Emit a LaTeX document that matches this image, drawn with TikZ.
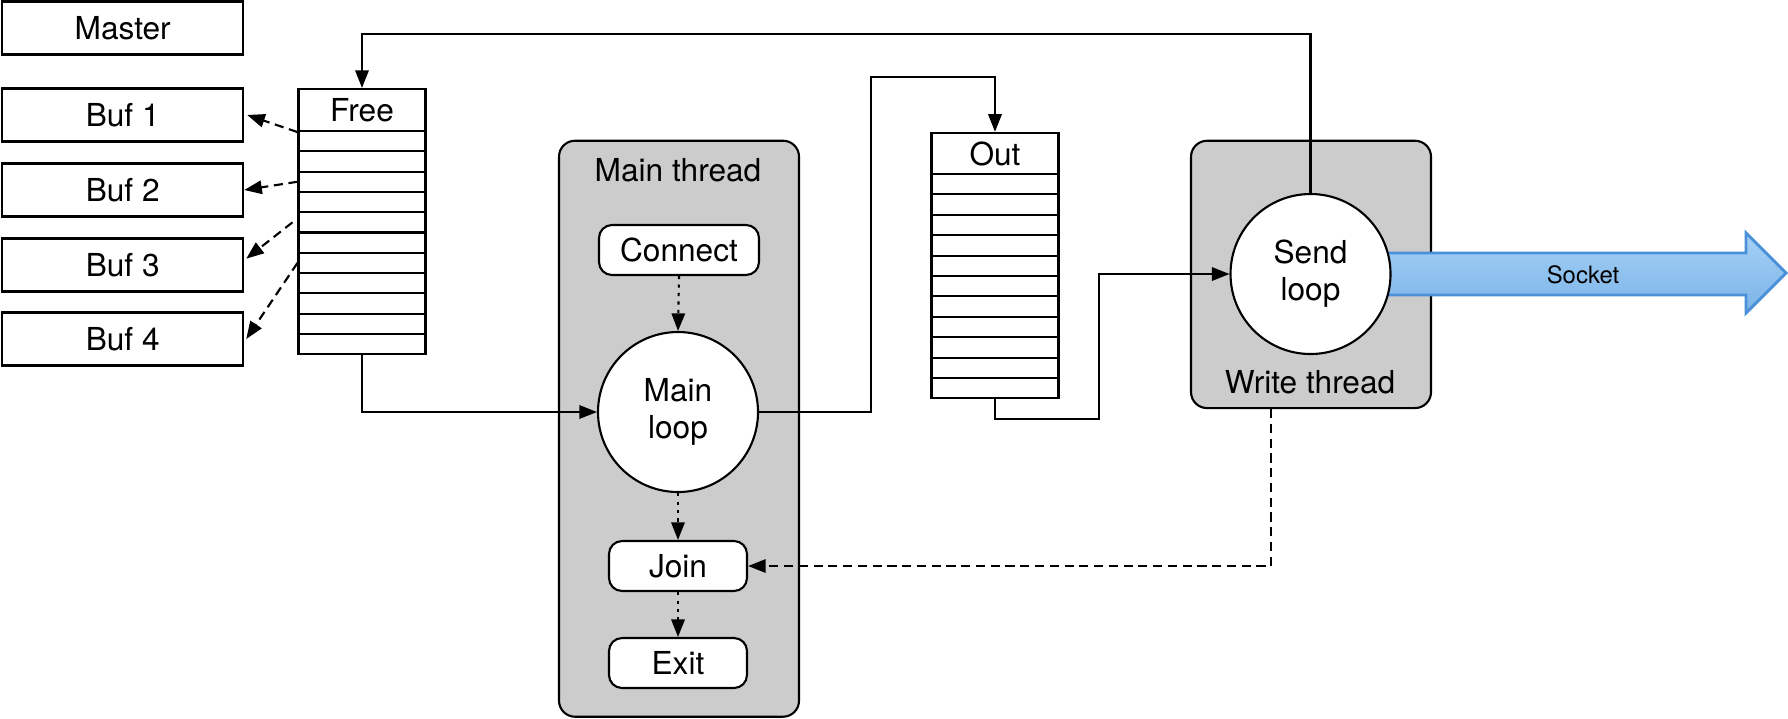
\documentclass[tikz,border=0pt]{standalone}
\usepackage{fontspec}
\setmainfont{TeX Gyre Heros}
\usetikzlibrary{positioning,arrows.meta}
\definecolor{threadgray}{HTML}{CCCCCC}
\definecolor{socketline}{HTML}{4A90D9}
\definecolor{sockettop}{HTML}{A6D1F6}
\definecolor{socketbot}{HTML}{7AB3E8}
\tikzset{
  flowarrow/.style={-{Triangle[length=5pt,width=3.8pt]}, line width=0.6pt},
  dasharrow/.style={flowarrow, dash pattern=on 2.6pt off 1.6pt},
  dotarrow/.style={flowarrow, dash pattern=on 0.9pt off 1.5pt},
  bufbox/.style={draw, line width=0.6pt, minimum width=2.41cm, minimum height=0.53cm, inner sep=0pt},
  queuehead/.style={draw, line width=0.6pt, minimum width=1.27cm, minimum height=0.42cm, inner sep=0pt},
  queuerow/.style={draw, line width=0.6pt, minimum width=1.27cm, minimum height=0.203cm, inner sep=0pt},
  threadbox/.style={draw, line width=0.6pt, rounded corners=0.16cm, fill=threadgray, minimum width=2.4cm, inner sep=0pt},
  loopnode/.style={draw, circle, line width=0.6pt, fill=white, minimum size=1.6cm, inner sep=0pt, align=center},
  stepbox/.style={draw, line width=0.6pt, rounded corners=0.13cm, fill=white, minimum height=0.5cm, inner sep=0pt}
}

\begin{document}
\begin{tikzpicture}[every node/.style={font=\fontsize{9}{10.5}\selectfont}]
  \useasboundingbox (0,0) rectangle (17.88,-7.18);

  % buffers
  \node[bufbox] (master) at (1.227,-0.28) {Master};
  \node[bufbox] (buf1) at (1.227,-1.15) {Buf 1};
  \node[bufbox] (buf2) at (1.227,-1.90) {Buf 2};
  \node[bufbox] (buf3) at (1.227,-2.65) {Buf 3};
  \node[bufbox] (buf4) at (1.227,-3.39) {Buf 4};

  % queues
  \node[queuehead] (freehead) at (3.62,-1.10) {Free};
  \foreach \i in {1,...,11}
    \node[queuerow] (free\i) at (3.62,{-1.31-0.203*(\i-0.5)}) {};
  \node[queuehead, minimum height=0.413cm] (outhead) at (9.95,-1.535) {Out};
  \foreach \i in {1,...,11}
    \node[queuerow, minimum height=0.204cm] (out\i) at (9.95,{-1.74-0.204*(\i-0.5)}) {};

  % main thread
  \node[threadbox, minimum height=5.76cm] (mainthread) at (6.79,-4.287) {};
  \node (mainlabel) at (6.78,-1.70) {Main thread};
  \node[stepbox, minimum width=1.60cm] (connect) at (6.79,-2.50) {Connect};
  \node[loopnode] (mainloop) at (6.78,-4.12) {Main\\loop};
  \node[stepbox, minimum width=1.38cm] (join) at (6.78,-5.66) {Join};
  \node[stepbox, minimum width=1.38cm] (exit) at (6.78,-6.63) {Exit};

  % write thread
  \node[threadbox, minimum height=2.673cm] (writethread) at (13.11,-2.744) {};
  \node (writelabel) at (13.10,-3.82) {Write thread};
  \coordinate (sendc) at (13.105,-2.74);
  \draw[socketline, line width=0.8pt, top color=sockettop, bottom color=socketbot]
    ([yshift=0.21cm]sendc) -- (17.46,-2.53) -- (17.46,-2.33) -- (17.86,-2.73)
    -- (17.46,-3.13) -- (17.46,-2.95) -- ([yshift=-0.21cm]sendc) -- cycle;
  \node[font=\fontsize{6.8}{8}\selectfont] (socket) at (15.83,-2.75) {Socket};
  \node[loopnode] (send) at (sendc) {Send\\loop};

  % connectors
  \coordinate (topline) at (0,-0.343);
  \coordinate (outbend) at (8.71,-0.767);
  \coordinate (sendbend) at (10.99,-4.19);
  \draw[flowarrow] (send.north) -- (send.north |- topline) -| (freehead.north);
  \draw[flowarrow] (free11.south) |- (mainloop.west);
  \draw[flowarrow] (mainloop.east) -| (outbend) -| (outhead.north);
  \draw[flowarrow] (out11.south) |- (sendbend) |- (send.west);
  \draw[dasharrow] (freehead.south west) -- ([xshift=0.03cm]buf1.east);
  \draw[dasharrow] (free3.west) -- (buf2.east);
  \draw[dasharrow] ([xshift=-0.05cm]free5.west) -- ([xshift=0.02cm]buf3.3);
  \draw[dasharrow] (free7.west) -- ([xshift=0.02cm]buf4.east);
  \draw[dotarrow] (connect.south) -- (mainloop.north);
  \draw[dotarrow] (mainloop.south) -- (join.north);
  \draw[dotarrow] (join.south) -- (exit.north);
  \draw[dasharrow] ([xshift=-0.40cm]writethread.south) |- (join.east);
\end{tikzpicture}
\end{document}
